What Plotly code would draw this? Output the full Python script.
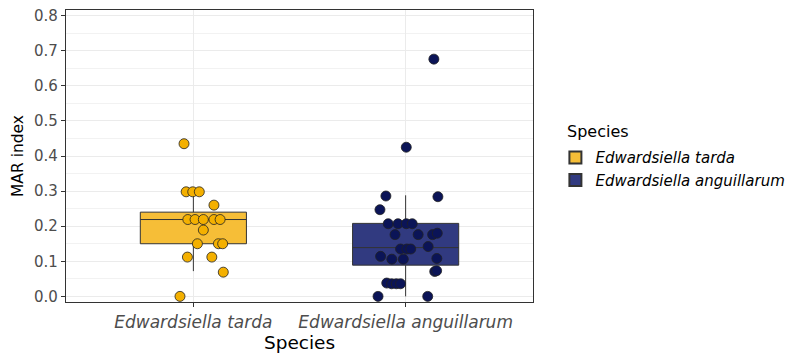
import plotly.graph_objects as go

# ---- data ----
species = ["Edwardsiella tarda", "Edwardsiella anguillarum"]
tick_pos = [1, 2]

# jittered points (value, horizontal jitter in category units)
tarda_vals = [0.435, 0.298, 0.298, 0.298, 0.26, 0.219, 0.219, 0.219, 0.219, 0.219,
              0.189, 0.15, 0.15, 0.15, 0.112, 0.112, 0.069, 0.0]
tarda_jit = [-0.044, -0.034, -0.003, 0.028, 0.097, -0.026, 0.008, 0.047, 0.097, 0.126,
             0.047, 0.019, 0.118, 0.138, -0.028, 0.087, 0.141, -0.063]

ang_vals = [0.676, 0.425, 0.286, 0.284, 0.247, 0.207, 0.207, 0.207, 0.207,
            0.176, 0.176, 0.176, 0.18, 0.142, 0.135, 0.135, 0.135,
            0.114, 0.106, 0.106, 0.108, 0.071, 0.073, 0.038, 0.036, 0.036, 0.036, 0.0, 0.0]
ang_jit = [0.133, 0.003, -0.093, 0.152, -0.121, -0.082, -0.036, 0.003, 0.031,
           -0.05, 0.059, 0.127, 0.149, 0.106, -0.024, 0.006, 0.024,
           -0.118, -0.065, -0.011, 0.147, 0.137, 0.146, -0.089, -0.066, -0.044, -0.024, -0.13, 0.104]

# box statistics
q1 = [0.150, 0.089]
median = [0.219, 0.139]
q3 = [0.240, 0.208]
lowerfence = [0.072, 0.0]
upperfence = [0.298, 0.288]

y_ticks = [0.0, 0.1, 0.2, 0.3, 0.4, 0.5, 0.6, 0.7, 0.8]

# ---- styles ----
box_fill = ["#F6BE37", "#313A80"]
pt_fill = ["#F4B000", "#0B1457"]
edge = "#333333"
FONT = "DejaVu Sans, Liberation Sans, sans-serif"

fig = go.Figure()
for i in range(2):
    fig.add_trace(go.Box(
        x=[tick_pos[i]], q1=[q1[i]], median=[median[i]], q3=[q3[i]],
        lowerfence=[lowerfence[i]], upperfence=[upperfence[i]],
        width=0.5, fillcolor=box_fill[i], line=dict(color=edge, width=1),
        boxpoints=False, name="<i>" + species[i] + "</i>",
        legendgroup=species[i], whiskerwidth=0,
    ))

for i, (vals, jit) in enumerate([(tarda_vals, tarda_jit), (ang_vals, ang_jit)]):
    fig.add_trace(go.Scatter(
        x=[tick_pos[i] + j for j in jit], y=vals, mode="markers",
        marker=dict(size=10, color=pt_fill[i], line=dict(color="#222222", width=0.8)),
        showlegend=False, legendgroup=species[i], hoverinfo="y",
    ))

fig.update_layout(
    width=794, height=359,
    margin=dict(l=66, r=261, t=7, b=57),
    paper_bgcolor="white", plot_bgcolor="white",
    font=dict(family=FONT, color="black"),
    legend=dict(
        font=dict(size=15, color="black"),
        xref="container", yref="container",
        x=0.6995, xanchor="left", y=0.53, yanchor="middle",
        tracegroupgap=0, itemsizing="constant",
    ),
    annotations=[dict(
        text="Species", xref="paper", yref="paper", x=1.0685, y=0.583,
        xanchor="left", yanchor="middle", showarrow=False,
        font=dict(size=16, color="black"),
    )],
    xaxis=dict(
        range=[0.4, 2.6], tickvals=tick_pos,
        ticktext=["<i>" + s + "</i>" for s in species],
        tickfont=dict(size=17, color="#4D4D4D"),
        title=dict(text="Species", font=dict(size=18.5, color="black"), standoff=5),
        showgrid=True, gridcolor="#EBEBEB", gridwidth=1,
        ticks="outside", ticklen=4, tickcolor=edge,
        showline=True, linecolor=edge, linewidth=1.3, mirror=True, zeroline=False,
    ),
    yaxis=dict(
        range=[-0.016, 0.816], tickvals=y_ticks,
        ticktext=[f"{v:.1f}" for v in y_ticks],
        tickfont=dict(size=15, color="#4D4D4D"),
        title=dict(text="MAR index", font=dict(size=15.5, color="black"), standoff=6),
        showgrid=True, gridcolor="#EBEBEB", gridwidth=1,
        minor=dict(dtick=0.05, tick0=0, showgrid=True, gridcolor="#F2F2F2", gridwidth=0.6),
        ticks="outside", ticklen=4, tickcolor=edge,
        showline=True, linecolor=edge, linewidth=1.3, mirror=True, zeroline=False,
    ),
    showlegend=True,
)

fig.write_html("out.html")
